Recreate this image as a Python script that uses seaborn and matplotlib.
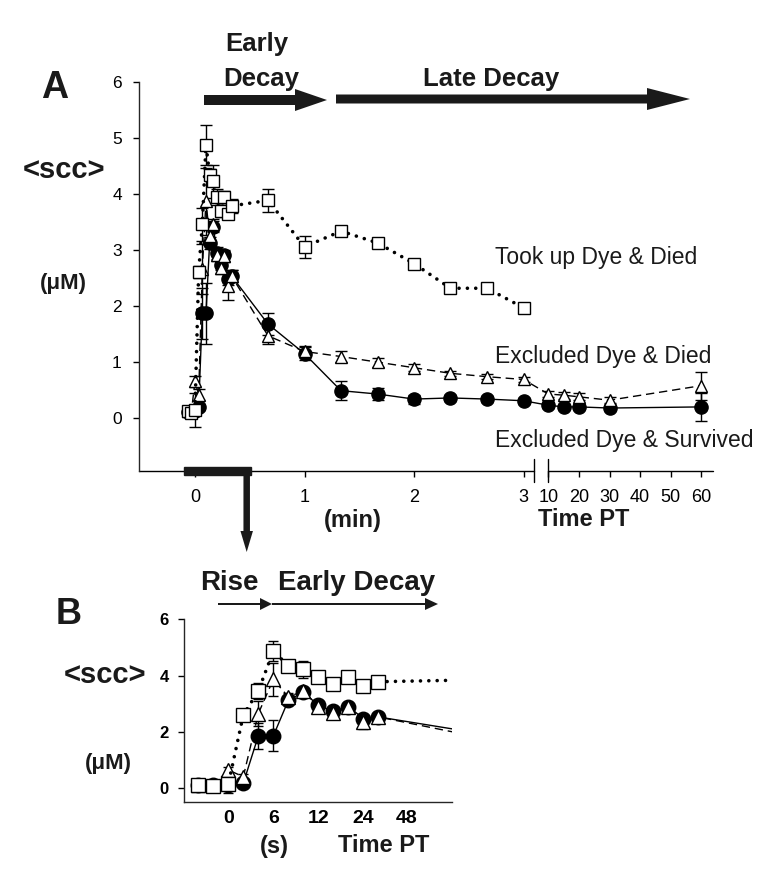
import numpy as np
import pandas as pd
import matplotlib
matplotlib.use("Agg")
import matplotlib.pyplot as plt
import seaborn as sns
from matplotlib.patches import FancyArrow, Rectangle

# --- data: [SCC] (uM) for the three cell groups ---
# early samples every 2 s post-treatment (shared by panel A and B)
early_s = [-4, -2, 0, 2, 4, 6, 8, 10, 12, 14, 16, 18, 20]
late_min = [0.667, 1.0, 1.333, 1.667, 2.0, 2.333, 2.667, 3.0]
tail_min = [10, 15, 20, 30, 60]

sq_early = [0.12, 0.09, 0.14, 2.60, 3.45, 4.87, 4.34, 4.22, 3.94, 3.69, 3.94, 3.64, 3.78]
sq_early_err = [0.05, 0.05, 0.30, 0.10, 0.30, 0.35, 0.10, 0.30, 0.15, 0.10, 0.10, 0.10, 0.12]
sq_late = [3.88, 3.05, 3.33, 3.12, 2.75, 2.31, 2.31, 1.96]
sq_late_err = [0.20, 0.20, 0.05, 0.05, 0.08, 0.05, 0.05, 0.05]

tri_early = [0.12, 0.10, 0.65, 0.41, 2.65, 3.86, 3.24, 3.45, 2.90, 2.67, 2.88, 2.35, 2.53]
tri_early_err = [0.05, 0.05, 0.10, 0.10, 0.45, 0.60, 0.15, 0.10, 0.10, 0.10, 0.10, 0.25, 0.10]
tri_late = [1.46, 1.18, 1.09, 0.99, 0.89, 0.79, 0.73, 0.68]
tri_late_err = [0.15, 0.10, 0.10, 0.08, 0.06, 0.05, 0.05, 0.05]
tri_tail = [0.42, 0.40, 0.37, 0.31, 0.57]
tri_tail_err = [0.06, 0.06, 0.06, 0.05, 0.25]

ci_early = [0.10, 0.10, 0.12, 0.18, 1.86, 1.86, 3.12, 3.41, 2.94, 2.73, 2.90, 2.47, 2.53]
ci_early_err = [0.05, 0.05, 0.05, 0.05, 0.45, 0.55, 0.10, 0.10, 0.10, 0.10, 0.10, 0.10, 0.10]
ci_late = [1.67, 1.14, 0.48, 0.42, 0.33, 0.35, 0.33, 0.30]
ci_late_err = [0.20, 0.12, 0.17, 0.10, 0.08, 0.05, 0.05, 0.05]
ci_tail = [0.22, 0.19, 0.19, 0.17, 0.19]
ci_tail_err = [0.05, 0.04, 0.04, 0.04, 0.25]

# panel B is plotted against sample number; next sample (40 s) sits at 22
b_index = list(range(13)) + [22]
b_ticks = [2, 5, 8, 11, 13.9]
b_ticklabels = ["0", "6", "12", "24", "48"]

a_ticks_min = [0, 1, 2, 3, 10, 20, 30, 40, 50, 60]


def a_pos(t):
    # broken time axis: linear minutes up to 3, compressed 10-60 min
    t = np.asarray(t, float)
    return np.where(t <= 3, t, 3.2265 + (t - 10) * 0.02795)


sns.set_theme(style="ticks")
plt.rcParams['font.family'] = ['Liberation Sans', 'DejaVu Sans']
plt.rcParams['axes.linewidth'] = 1.0

W, H = 773, 877
fig = plt.figure(figsize=(W / 100, H / 100), dpi=100)
fig.patch.set_facecolor("white")


def fx(x):
    return x / W


def fy(y):
    return 1 - y / H


axA = fig.add_axes([fx(138.5), fy(471), (713 - 138.5) / W, (471 - 81.7) / H])
axB = fig.add_axes([fx(184), fy(801.7), (452 - 184) / W, (801.7 - 619.1) / H])

styles = {
    "sq": dict(marker="s", markersize=8, linestyle=(0, (0.01, 2.3)), linewidth=2.6,
               dash_capstyle="round"),
    "tri": dict(marker="^", markersize=9, linestyle=(0, (6, 3.5)), linewidth=1.0),
    "ci": dict(marker="o", markersize=9.5, linestyle="-", linewidth=1.0),
}
face = {"sq": "white", "tri": "white", "ci": "black"}


def draw(ax, x, y, err, key, capsize, msize_scale=1.0):
    ax.errorbar(x, y, yerr=err, fmt="none", ecolor="black", elinewidth=1.0,
                capsize=capsize, capthick=1.0, zorder=2)
    st = dict(styles[key])
    st["markersize"] = st["markersize"] * msize_scale
    sns.lineplot(x=x, y=y, ax=ax, color="black", estimator=None, sort=False,
                 errorbar=None, markerfacecolor=face[key], markeredgecolor="black",
                 markeredgewidth=1.0, zorder=3, **st)


# ---------------- Panel A ----------------
min_early = np.array(early_s) / 60.0
xa_sq = a_pos(np.concatenate([min_early, late_min]))
xa_full = a_pos(np.concatenate([min_early, late_min, tail_min]))

draw(axA, xa_full, ci_early + ci_late + ci_tail,
     ci_early_err + ci_late_err + ci_tail_err, "ci", 4.5)
draw(axA, xa_full, tri_early + tri_late + tri_tail,
     tri_early_err + tri_late_err + tri_tail_err, "tri", 4.5)
draw(axA, xa_sq, sq_early + sq_late, sq_early_err + sq_late_err, "sq", 4.5)

ybot = -0.955
x_left, x_right = -0.516, 4.73
axA.set_xlim(x_left, x_right)
axA.set_ylim(ybot, 6)
axA.set_yticks(range(0, 7))
axA.set_yticklabels([str(v) for v in range(0, 7)], fontsize=12.5)
axA.set_xticks(a_pos(a_ticks_min))
axA.set_xticklabels([str(v) for v in a_ticks_min], fontsize=13)
axA.tick_params(axis="y", direction="out", length=4, width=1, pad=8, colors="black")
axA.tick_params(axis="x", direction="out", length=4, width=1, pad=9, colors="black")
axA.spines[["top", "right", "bottom"]].set_visible(False)
axA.spines["left"].set_bounds(ybot, 6)
axA.set_xlabel("")
axA.set_ylabel("")

# broken x axis line
brk_l, brk_r = 3.099, 3.2265
axA.plot([x_left, brk_l], [ybot, ybot], color="black", lw=1, clip_on=False)
axA.plot([brk_r, x_right], [ybot, ybot], color="black", lw=1, clip_on=False)
for xb in (brk_l, brk_r):
    axA.plot([xb, xb], [ybot - 0.2, ybot + 0.21], color="black", lw=1, clip_on=False)

# thick bar marking the zoomed span
axA.add_patch(Rectangle((-0.1, ybot - 0.065), 0.609, 0.13, color="#1a1a1a",
                        clip_on=False, zorder=4))

# ---------------- Panel B ----------------
draw(axB, b_index, ci_early + [ci_late[0]], ci_early_err + [ci_late_err[0]], "ci", 3.5, 1.1)
draw(axB, b_index, tri_early + [tri_late[0]], tri_early_err + [tri_late_err[0]], "tri", 3.5, 1.1)
draw(axB, b_index, sq_early + [sq_late[0]], sq_early_err + [sq_late_err[0]], "sq", 3.5, 1.2)

axB.set_xlim(-0.95, 16.9)
axB.set_ylim(-0.475, 6)
axB.set_yticks([0, 2, 4, 6])
axB.set_yticklabels(["0", "2", "4", "6"], fontsize=12, fontweight="bold")
axB.set_xticks(b_ticks)
axB.set_xticklabels(b_ticklabels, fontsize=14, fontweight="bold")
axB.tick_params(axis="y", direction="out", length=4, width=1, pad=7, colors="black")
axB.tick_params(axis="x", length=0, pad=6, colors="black")
axB.spines[["top", "right"]].set_visible(False)
axB.spines["left"].set_bounds(-0.475, 6)
axB.set_xlabel("")
axB.set_ylabel("")

# ---------------- annotations ----------------
dark = "#1a1a1a"
inch = fig.dpi_scale_trans


def arrow(x0, y0, x1, y1, width, hw, hl):
    a = FancyArrow(x0 / 100, (H - y0) / 100, (x1 - x0) / 100, -(y1 - y0) / 100,
                   width=width / 100, head_width=hw / 100, head_length=hl / 100,
                   length_includes_head=True, transform=inch, color=dark, lw=0)
    fig.add_artist(a)


arrow(204, 100, 327, 100, 10, 22, 32)
arrow(336, 99, 690, 99, 9, 22, 43)
arrow(246.7, 473, 246.7, 552, 6.5, 12.5, 21)
arrow(218, 604, 272, 604, 2, 12, 12)
arrow(272, 604, 438, 604, 2, 12, 13)

bold = dict(fontweight="bold", ha="center", va="center", color=dark)
fig.text(fx(257), fy(44), "Early", fontsize=18.5, **bold)
fig.text(fx(261), fy(79), "Decay", fontsize=18.5, **bold)
fig.text(fx(491), fy(79), "Late Decay", fontsize=18.5, **bold)

fig.text(fx(55), fy(88), "A", fontsize=27, **bold)
fig.text(fx(64), fy(170), "<scc>", fontsize=21, **bold)
fig.text(fx(63), fy(283), "(μM)", fontsize=16, **bold)

fig.text(fx(353), fy(520), "(min)", fontsize=17, **bold)
fig.text(fx(584), fy(520), "Time PT", fontsize=17, **bold)

reg = dict(ha="left", va="center", color=dark, fontsize=16.5)
fig.text(fx(495), fy(258), "Took up Dye & Died", **reg)
fig.text(fx(495), fy(357), "Excluded Dye & Died", **reg)
fig.text(fx(495), fy(440), "Excluded Dye & Survived", **reg)

fig.text(fx(69), fy(614), "B", fontsize=26, **bold)
fig.text(fx(105), fy(675), "<scc>", fontsize=21, **bold)
fig.text(fx(108), fy(763), "(μM)", fontsize=16, **bold)
fig.text(fx(229), fy(583), "Rise", fontsize=20, **bold)
fig.text(fx(357), fy(583), "Early Decay", fontsize=20, **bold)
fig.text(fx(274), fy(846), "(s)", fontsize=17, **bold)
fig.text(fx(384), fy(846), "Time PT", fontsize=17, **bold)

fig.savefig("out.png", dpi=100, facecolor="white")
